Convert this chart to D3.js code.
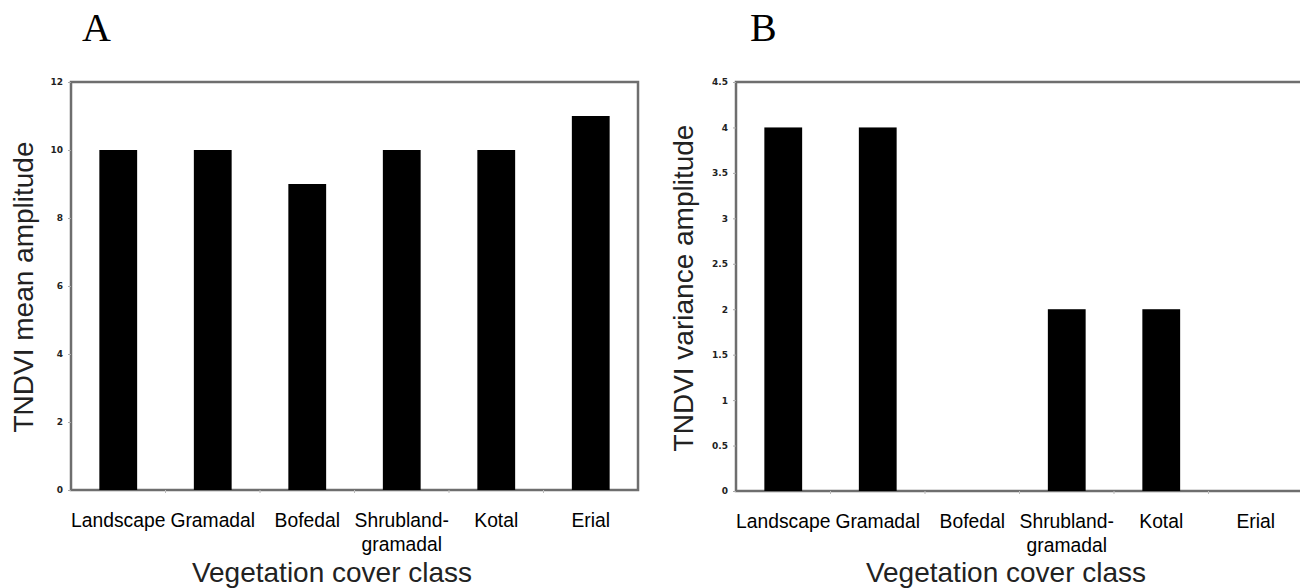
<!DOCTYPE html>
<html><head><meta charset="utf-8">
<script src="https://cdn.jsdelivr.net/npm/d3@7"></script>
<style>
html,body{margin:0;padding:0;background:#fff;}
svg{display:block;}
</style></head>
<body>
<svg id="c" width="1300" height="588"></svg>
<script>
const categories = ["Landscape","Gramadal","Bofedal","Shrubland-\ngramadal","Kotal","Erial"];
const meanAmplitude = [10,10,9,10,10,11];
const varianceAmplitude = [4,4,0,2,2,0];
const meanTicks = [0,2,4,6,8,10,12];
const varTicks = [0,0.5,1,1.5,2,2.5,3,3.5,4,4.5];

const SANS = "'Liberation Sans', Arial, sans-serif";
const svg = d3.select("#c");

function panel(opt){
  const g = svg.append("g");
  const x = d3.scaleBand().domain(categories).range([opt.left, opt.right]).paddingInner(0.6).paddingOuter(0.3);
  const y = d3.scaleLinear().domain([0, opt.max]).range([opt.bottom, opt.top]);

  // frame
  g.append("rect").attr("x",opt.left).attr("y",opt.top)
    .attr("width",opt.right-opt.left).attr("height",opt.bottom-opt.top)
    .attr("fill","none").attr("stroke","#6e6e6e").attr("stroke-width",2.5);

  // bars
  g.selectAll("rect.bar").data(opt.values).enter().append("rect")
    .attr("class","bar")
    .attr("x",(d,i)=>x(categories[i]))
    .attr("y",d=>y(d))
    .attr("width",x.bandwidth())
    .attr("height",d=>y(0)-y(d))
    .attr("fill","#000");

  // y axis
  const ya = g.append("g").attr("transform",`translate(${opt.left},0)`)
    .call(d3.axisLeft(y).tickValues(opt.ticks).tickSize(3).tickPadding(5).tickFormat(d=>String(d)));
  ya.select(".domain").remove();
  ya.selectAll("line").attr("stroke","#aaa");
  ya.selectAll("text").attr("font-size",9).attr("font-weight","bold").attr("fill","#222")
    .style("font-family","'DejaVu Sans', sans-serif");

  // x axis labels
  const xa = g.append("g").attr("transform",`translate(0,${opt.bottom})`)
    .call(d3.axisBottom(x).tickSize(0).tickPadding(12).tickFormat(""));
  xa.select(".domain").remove();
  const step = x.step();
  categories.slice(1).forEach((c)=>{
    const bx = x(c) - (step - x.bandwidth())/2;
    g.append("line").attr("x1",bx).attr("x2",bx).attr("y1",opt.bottom).attr("y2",opt.bottom+3).attr("stroke","#bbb");
  });
  xa.selectAll(".tick").each(function(d){
    const t = d3.select(this).append("text").attr("fill","#000").attr("font-size",19.3)
      .style("font-family",SANS).attr("text-anchor","middle").attr("y",37);
    d.split("\n").forEach((line,k)=>{
      t.append("tspan").attr("x",0).attr("dy",k===0?0:24).text(line);
    });
  });

  // axis titles
  g.append("text").attr("x",opt.xTitleX).attr("y",582).attr("text-anchor","middle")
    .style("font-family",SANS).attr("font-size",28).attr("fill","#222").text("Vegetation cover class");
  g.append("text").attr("transform",`translate(${opt.yTitleX},${opt.yTitleY}) rotate(-90)`)
    .style("font-family",SANS).attr("text-anchor","middle").attr("font-size",28).attr("fill","#222").text(opt.yTitle);

  // panel letter
  g.append("text").attr("x",opt.letterX).attr("y",41)
    .style("font-family","'Liberation Serif', 'Times New Roman', serif")
    .attr("font-size",40).attr("fill","#000").text(opt.letter);
}

panel({left:71,right:638,top:82,bottom:490,max:12,values:meanAmplitude,ticks:meanTicks,
  yTitle:"TNDVI mean amplitude",yTitleX:33,yTitleY:287,xTitleX:332,letter:"A",letterX:82});
panel({left:736,right:1303,top:82,bottom:491,max:4.5,values:varianceAmplitude,ticks:varTicks,
  yTitle:"TNDVI variance amplitude",yTitleX:693,yTitleY:288,xTitleX:1006,letter:"B",letterX:750});
</script>
</body></html>
